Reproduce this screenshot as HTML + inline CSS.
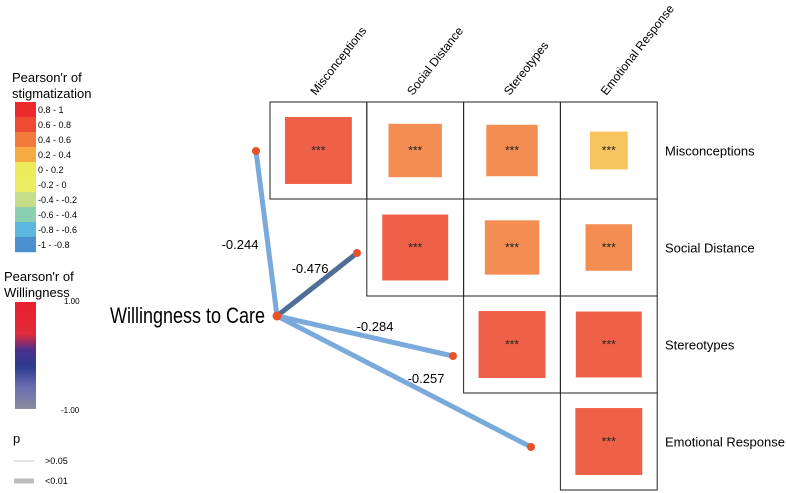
<!DOCTYPE html>
<html><head><meta charset="utf-8"><style>
body{margin:0;background:#fff;}
svg{display:block;font-family:"Liberation Sans",Arial,sans-serif;}
</style></head><body>
<svg id="chart" width="786" height="493" viewBox="0 0 786 493" xmlns="http://www.w3.org/2000/svg">
<defs>
<linearGradient id="wg" x1="0" y1="0" x2="0" y2="1">
<stop offset="0" stop-color="#e8202e"/><stop offset="0.3" stop-color="#e22a3a"/><stop offset="0.45" stop-color="#4a2f8a"/><stop offset="0.6" stop-color="#2c3b8e"/><stop offset="0.8" stop-color="#6a6fb0"/><stop offset="1" stop-color="#8a8ca0"/>
</linearGradient>
</defs>
<g id="legend">
<text x="12" y="82" font-size="13">Pearson'r of</text>
<text x="12" y="98" font-size="13">stigmatization</text>
<g id="stigLegend"></g>
<text x="4" y="281" font-size="13">Pearson'r of</text>
<text x="4" y="297" font-size="13">Willingness</text>
<rect x="15" y="302" width="21" height="107" fill="url(#wg)"/>
<text x="64" y="304" font-size="8">1.00</text>
<text x="61" y="413" font-size="8">-1.00</text>
<text x="13" y="443" font-size="13">p</text>
<line x1="14" y1="461" x2="34" y2="461" stroke="#bbb" stroke-width="0.7"/>
<text x="45" y="464" font-size="9">&gt;0.05</text>
<line x1="14" y1="481" x2="34" y2="481" stroke="#bbb" stroke-width="5"/>
<text x="45" y="484" font-size="9">&lt;0.01</text>
</g>
<g id="matrix"></g>
<g id="links"></g>
<text x="110" y="323" font-size="22" textLength="155" lengthAdjust="spacingAndGlyphs">Willingness to Care</text>
</svg>
<script>
const NS="http://www.w3.org/2000/svg";
const vars=["Misconceptions","Social Distance","Stereotypes","Emotional Response"];
const rowIdx=[0,0,0,0,1,1,1,2,2,3];
const colIdx=[0,1,2,3,1,2,3,2,3,3];
const rVals=[0.69,0.55,0.53,0.39,0.68,0.56,0.48,0.69,0.68,0.69];
const willR=[-0.244,-0.476,-0.284,-0.257];
const willLabels=["-0.244","-0.476","-0.284","-0.257"];
const legendBins=["0.8 - 1","0.6 - 0.8","0.4 - 0.6","0.2 - 0.4","0 - 0.2","-0.2 - 0","-0.4 - -0.2","-0.6 - -0.4","-0.8 - -0.6","-1 - -0.8"];
const legendColors=["#ec2a2e","#ee4a32","#f27a3a","#f6ab45","#ecec5a","#ecec62","#c6dd8a","#8ccfb0","#5bb7e0","#4a90d0"];
function mk(t,a,p){const e=document.createElementNS(NS,t);for(const k in a)e.setAttribute(k,a[k]);p.appendChild(e);return e;}
function binColor(r){if(r>=0.8)return "#ec3a30";if(r>=0.6)return "#ef6048";if(r>=0.4)return "#f38d52";return "#f8c45e";}
const sl=document.getElementById("stigLegend");
legendBins.forEach((b,i)=>{
 const r=mk("rect",{x:15,y:102+i*15,width:21,height:15.2,fill:legendColors[i]},sl);
 
 
 const t=mk("text",{x:38,y:113+i*15,"font-size":9},sl);t.textContent=b;
 
 
});
const gx0=270,gy0=102,cw=96.8,ch=97;
const cx=j=>gx0+cw*j+cw/2, cy=i=>gy0+ch*i+ch/2;
const m=document.getElementById("matrix");
rVals.forEach((r,k)=>{
 const i=rowIdx[k],j=colIdx[k];
 const c=mk("rect",{x:gx0+cw*j,y:gy0+ch*i,width:cw,height:ch,fill:"none",stroke:"#222","stroke-width":1},m);
 
 
 const s=r*97;
 const sq=mk("rect",{x:cx(j)-s/2,y:cy(i)-s/2,width:s,height:s,fill:binColor(r)},m);
 
 
 const t=mk("text",{x:cx(j),y:cy(i)+4,"font-size":12,"text-anchor":"middle",fill:"#222"},m);t.textContent="***";
 
 
});
vars.forEach((v,j)=>{
 const x=gx0+cw*j+46, y=96;
 const t=mk("text",{x:x,y:y,"font-size":12,transform:`rotate(-52 ${x} ${y})`},m);t.textContent=v;
 
 
 const t2=mk("text",{x:665,y:cy(j)+5,"font-size":13},m);t2.textContent=v;
 
 
});
const L=document.getElementById("links");
const ox=277,oy=316;
const ends=[[256,151],[357,253],[453,356],[531,447]];
const labPos=[[240,249],[310,273],[375,331],[426,383]];
willR.forEach((r,k)=>{
 const [ex,ey]=ends[k];
 const col=Math.abs(r)>0.4?"#4e6e96":"#7aaadc";
 const ln=mk("line",{x1:ox,y1:oy,x2:ex,y2:ey,stroke:col,"stroke-width":5},L);
 
 
 const d=mk("circle",{cx:ex,cy:ey,r:4,fill:"#e8522a"},L);
 
 
 const t=mk("text",{x:labPos[k][0],y:labPos[k][1],"font-size":13,"text-anchor":"middle"},L);t.textContent=willLabels[k];
 
 
});
const o=mk("circle",{cx:ox,cy:oy,r:4.5,fill:"#e8522a"},L);


</script>
</body></html>
